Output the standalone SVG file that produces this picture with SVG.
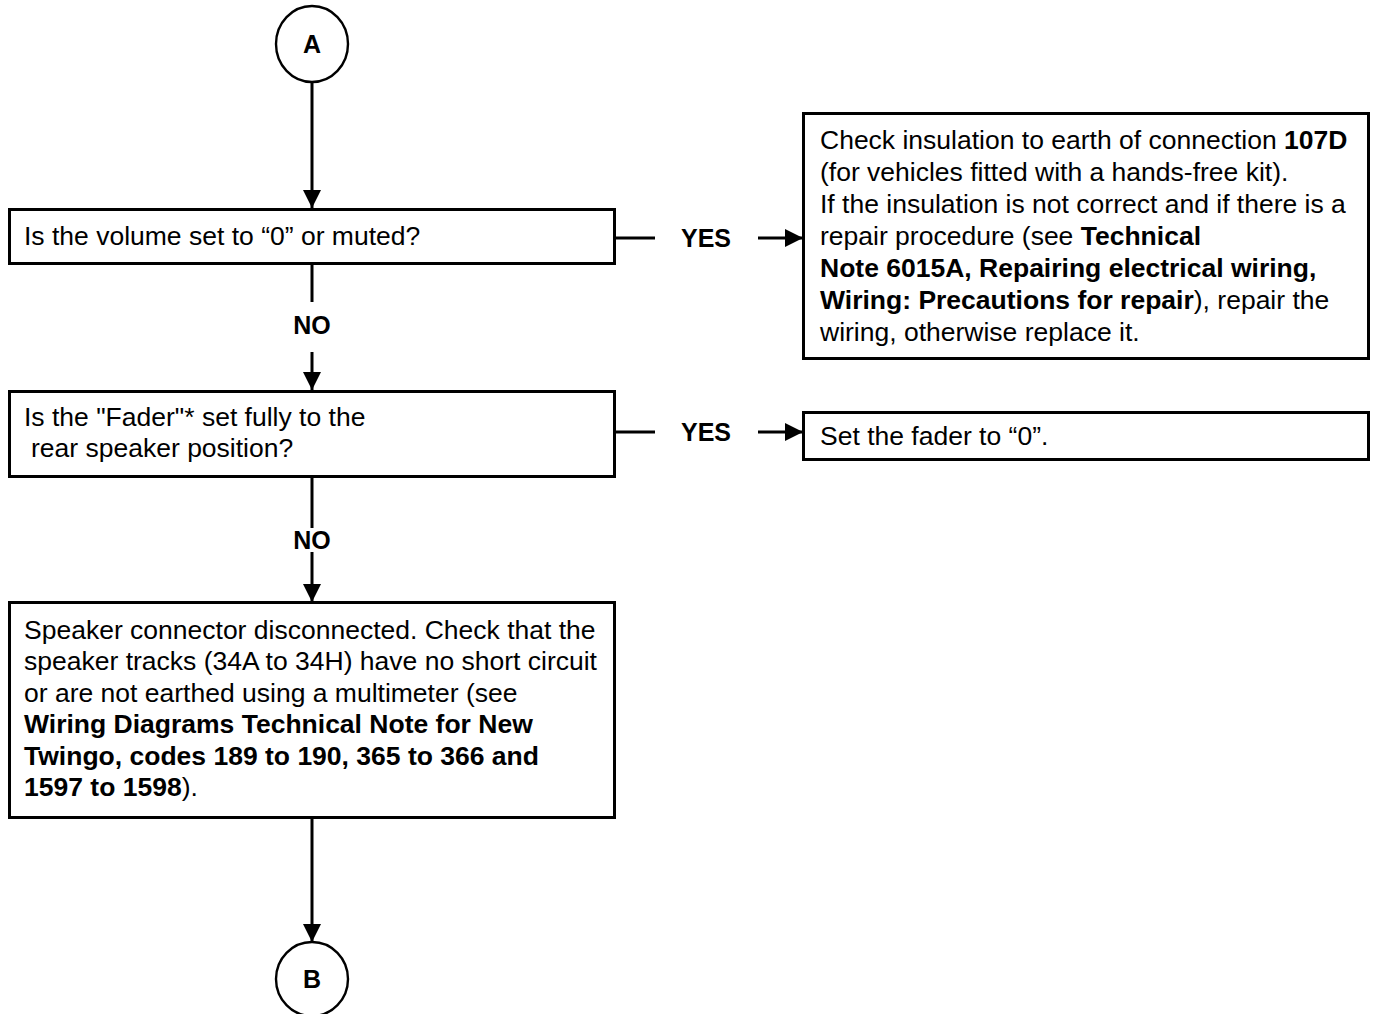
<svg xmlns="http://www.w3.org/2000/svg" width="1375" height="1014" viewBox="0 0 1375 1014">
<defs>
<style>
.box{fill:#fff;stroke:#000;stroke-width:3}
.circ{fill:#fff;stroke:#000;stroke-width:2.4}
.ln{fill:none;stroke:#000;stroke-width:3}
.t{font-family:"Liberation Sans",Arial,sans-serif;font-size:26.5px;fill:#000}
.b{font-weight:bold}
.lbl{font-family:"Liberation Sans",Arial,sans-serif;font-size:25px;font-weight:bold;fill:#000;text-anchor:middle}
</style>
<marker id="ah" viewBox="0 0 10 10" refX="10" refY="5" markerWidth="6" markerHeight="6" markerUnits="strokeWidth" orient="auto">
<path d="M0,0 L10,5 L0,10 Z" fill="#000"/>
</marker>
</defs>
<rect width="1375" height="1014" fill="#fff"/>

<g id="connectors">
<line class="ln" x1="312" y1="82" x2="312" y2="208" marker-end="url(#ah)"/>
<line class="ln" x1="312" y1="263" x2="312" y2="302"/>
<line class="ln" x1="312" y1="352" x2="312" y2="390" marker-end="url(#ah)"/>
<line class="ln" x1="312" y1="477" x2="312" y2="528"/>
<line class="ln" x1="312" y1="552" x2="312" y2="602" marker-end="url(#ah)"/>
<line class="ln" x1="312" y1="818" x2="312" y2="942" marker-end="url(#ah)"/>
<line class="ln" x1="615" y1="238" x2="655" y2="238"/>
<line class="ln" x1="758" y1="238" x2="803" y2="238" marker-end="url(#ah)"/>
<line class="ln" x1="615" y1="432" x2="655" y2="432"/>
<line class="ln" x1="758" y1="432" x2="803" y2="432" marker-end="url(#ah)"/>
<text class="lbl" x="312" y="334">NO</text>
<text class="lbl" x="312" y="549">NO</text>
<text class="lbl" x="706" y="247">YES</text>
<text class="lbl" x="706" y="441">YES</text>
</g>

<g id="nodeA">
<ellipse class="circ" cx="312" cy="44" rx="36" ry="38"/>
<text class="lbl" x="312" y="53">A</text>
</g>

<g id="q1">
<rect class="box" x="9.5" y="209.5" width="605" height="54"/>
<text class="t" x="24" y="245">Is the volume set to “0” or muted?</text>
</g>

<g id="r1">
<rect class="box" x="803.5" y="113.5" width="565" height="245"/>
<text class="t" x="820" y="149">Check insulation to earth of connection <tspan class="b">107D</tspan></text>
<text class="t" x="820" y="181">(for vehicles fitted with a hands-free kit).</text>
<text class="t" x="820" y="213">If the insulation is not correct and if there is a</text>
<text class="t" x="820" y="245">repair procedure (see <tspan class="b">Technical</tspan></text>
<text class="t b" x="820" y="277">Note 6015A, Repairing electrical wiring,</text>
<text class="t" x="820" y="309"><tspan class="b">Wiring: Precautions for repair</tspan>), repair the</text>
<text class="t" x="820" y="341">wiring, otherwise replace it.</text>
</g>

<g id="q2">
<rect class="box" x="9.5" y="391.5" width="605" height="85"/>
<text class="t" x="24" y="426">Is the "Fader"* set fully to the</text>
<text class="t" x="31" y="457">rear speaker position?</text>
</g>

<g id="r2">
<rect class="box" x="803.5" y="412.5" width="565" height="47"/>
<text class="t" x="820" y="445">Set the fader to “0”.</text>
</g>

<g id="s3">
<rect class="box" x="9.5" y="602.5" width="605" height="215"/>
<text class="t" x="24" y="639">Speaker connector disconnected. Check that the</text>
<text class="t" x="24" y="670">speaker tracks (34A to 34H) have no short circuit</text>
<text class="t" x="24" y="702">or are not earthed using a multimeter (see</text>
<text class="t b" x="24" y="733">Wiring Diagrams Technical Note for New</text>
<text class="t b" x="24" y="765">Twingo, codes 189 to 190, 365 to 366 and</text>
<text class="t" x="24" y="796"><tspan class="b">1597 to 1598</tspan>).</text>
</g>

<g id="nodeB">
<ellipse class="circ" cx="312" cy="979" rx="36" ry="37"/>
<text class="lbl" x="312" y="988">B</text>
</g>
</svg>
